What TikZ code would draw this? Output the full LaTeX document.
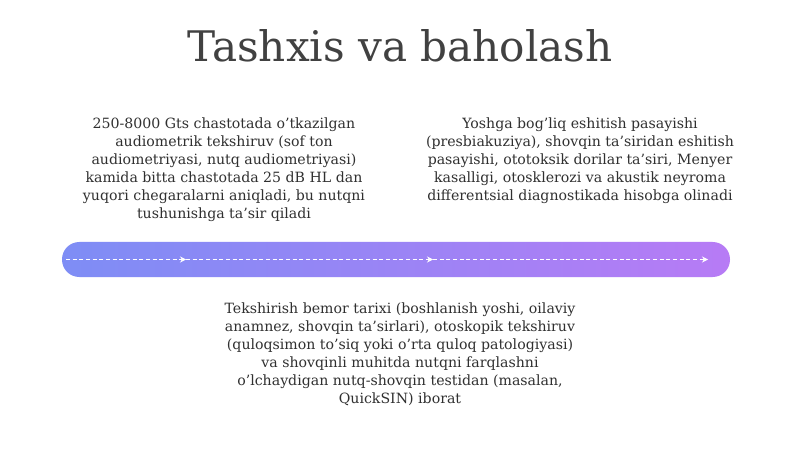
\documentclass[tikz,border=0pt]{standalone}
\usepackage{fontspec}
\setmainfont{DejaVu Serif}
\usetikzlibrary{arrows.meta}
\definecolor{txt}{HTML}{303030}
\definecolor{barL}{HTML}{7E8DF5}
\definecolor{barR}{HTML}{B77BF5}
\tikzset{
  body/.style={text=txt, align=center, font=\fontsize{10.6}{13.5}\selectfont, inner sep=0pt},
  flow/.style={draw=white, line width=0.6pt, densely dashed, -{Stealth[length=4.5pt,width=4.5pt]}},
}
\begin{document}
\begin{tikzpicture}[x=0.75pt,y=-0.75pt]
\useasboundingbox (0,0) rectangle (800,449);
\fill[white] (0,0) rectangle (800,449);
\node[text=txt!92!white, font=\fontsize{31.6}{38}\selectfont, inner sep=0pt] (title) at (400,46) {Tashxis va baholash};
\node[body] (left) at (224,170) {250-8000 Gts chastotada o'tkazilgan\\audiometrik tekshiruv (sof ton\\audiometriyasi, nutq audiometriyasi)\\kamida bitta chastotada 25 dB HL dan\\yuqori chegaralarni aniqladi, bu nutqni\\tushunishga ta'sir qiladi};
\node[body] (right) at (580,161) {Yoshga bog'liq eshitish pasayishi\\(presbiakuziya), shovqin ta'siridan eshitish\\pasayishi, ototoksik dorilar ta'siri, Menyer\\kasalligi, otosklerozi va akustik neyroma\\differentsial diagnostikada hisobga olinadi};
\node[body] (bottom) at (400,354) {Tekshirish bemor tarixi (boshlanish yoshi, oilaviy\\anamnez, shovqin ta'sirlari), otoskopik tekshiruv\\(quloqsimon to'siq yoki o'rta quloq patologiyasi)\\va shovqinli muhitda nutqni farqlashni\\o'lchaydigan nutq-shovqin testidan (masalan,\\QuickSIN) iborat};
\shade[left color=barL, right color=barR, rounded corners=13pt] (62,242) rectangle (730,277);
\coordinate (p0) at (66,259.5);
\coordinate (p1) at (186,259.5);
\coordinate (p2) at (433,259.5);
\coordinate (p3) at (708,259.5);
\draw[flow] (p0) -- (p1);
\draw[flow] (p1) -- (p2);
\draw[flow] (p2) -- (p3);
\end{tikzpicture}
\end{document}
